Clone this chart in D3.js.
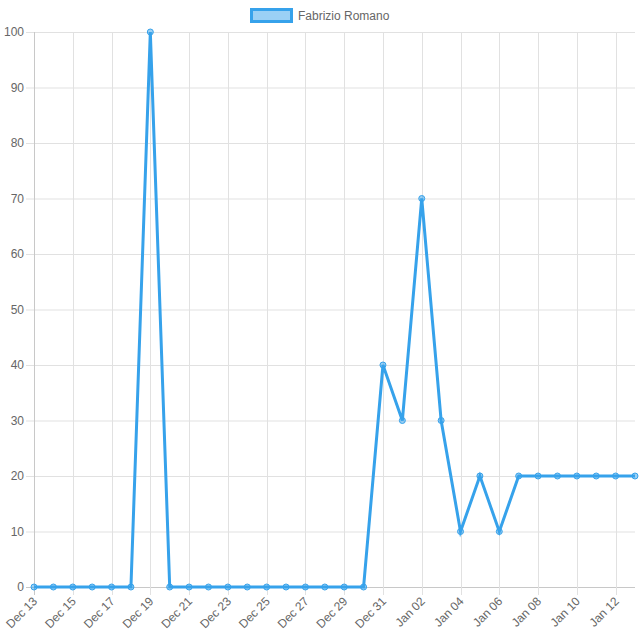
<!DOCTYPE html>
<html><head><meta charset="utf-8">
<script src="https://cdn.jsdelivr.net/npm/d3@7"></script>
<style>body{margin:0;background:#fff}svg{display:block}text{font-family:"Liberation Sans",Arial,sans-serif}</style>
</head><body><svg id="c" width="640" height="640"></svg>
<script>
const seriesName = "Fabrizio Romano";
const dates = ["Dec 13","Dec 14","Dec 15","Dec 16","Dec 17","Dec 18","Dec 19","Dec 20","Dec 21","Dec 22","Dec 23","Dec 24","Dec 25","Dec 26","Dec 27","Dec 28","Dec 29","Dec 30","Dec 31","Jan 01","Jan 02","Jan 03","Jan 04","Jan 05","Jan 06","Jan 07","Jan 08","Jan 09","Jan 10","Jan 11","Jan 12","Jan 13"];
const values = [0,0,0,0,0,0,100,0,0,0,0,0,0,0,0,0,0,0,40,30,70,30,10,20,10,20,20,20,20,20,20,20];
const yTicks = [0,10,20,30,40,50,60,70,80,90,100];

const svg = d3.select("#c");
const L = 34, R = 635, T = 32, B = 587;
const x = d3.scalePoint().domain(dates).range([L, R]);
const y = d3.scaleLinear().domain([0, 100]).range([B, T]);
const grid = "#e1e1e1", txt = "#666";

// horizontal grid
svg.append("g").selectAll("line").data(yTicks).join("line")
  .attr("x1", L - 8).attr("x2", R).attr("y1", d => y(d) + 0.5).attr("y2", d => y(d) + 0.5)
  .attr("stroke", d => d === 0 ? "#c8c8c8" : grid).attr("stroke-width", 1);
// vertical grid at labelled dates
const labelDates = dates.filter((d, i) => i % 2 === 0);
svg.append("g").selectAll("line").data(labelDates).join("line")
  .attr("x1", d => Math.round(x(d)) + 0.5).attr("x2", d => Math.round(x(d)) + 0.5)
  .attr("y1", T).attr("y2", B + 8)
  .attr("stroke", (d, i) => i === 0 ? "#c8c8c8" : grid).attr("stroke-width", 1);

// y labels
svg.append("g").selectAll("text").data(yTicks).join("text")
  .attr("x", L - 10).attr("y", d => y(d)).attr("dy", "0.35em")
  .attr("text-anchor", "end").attr("font-size", 12).attr("fill", txt).text(d => d);

// x labels
svg.append("g").selectAll("text").data(labelDates).join("text")
  .attr("transform", d => `translate(${x(d) + 4},${B + 15}) rotate(-45)`)
  .attr("text-anchor", "end").attr("font-size", 12).attr("fill", txt).text(d => d);

// line
svg.append("path").datum(values)
  .attr("d", d3.line().x((d, i) => x(dates[i])).y(d => y(d)))
  .attr("fill", "none").attr("stroke", "#36a2eb").attr("stroke-width", 3).attr("stroke-linejoin", "miter");
svg.append("g").selectAll("circle").data(values).join("circle")
  .attr("cx", (d, i) => x(dates[i])).attr("cy", d => y(d)).attr("r", 3)
  .attr("fill", "rgba(54,162,235,0.5)").attr("stroke", "#36a2eb").attr("stroke-width", 1);

// legend
const lg = svg.append("g");
lg.append("rect").attr("x", 251.5).attr("y", 9.5).attr("width", 40).attr("height", 12)
  .attr("fill", "rgba(54,162,235,0.5)").attr("stroke", "#36a2eb").attr("stroke-width", 3);
lg.append("text").attr("x", 298).attr("y", 16).attr("dy", "0.35em").attr("font-size", 12).attr("fill", txt).text(seriesName);
</script></body></html>
